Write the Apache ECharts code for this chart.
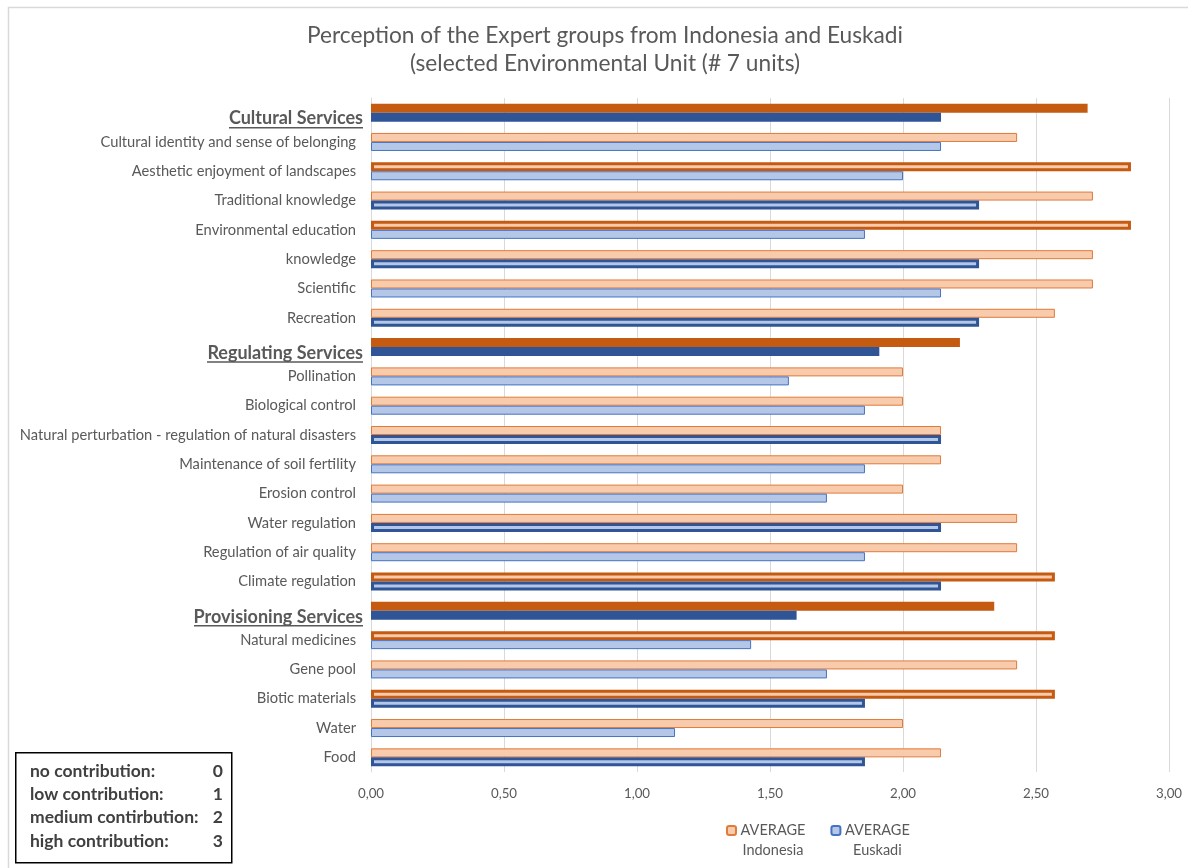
<!DOCTYPE html>
<html><head><meta charset="utf-8">
<script src="https://cdn.jsdelivr.net/npm/echarts@6/dist/echarts.min.js"></script>
<style>html,body{margin:0;padding:0;background:#fff}#c{width:1188px;height:868px}</style>
</head><body><div id="c"></div>
<script>
// ---- data ----
const categories = [
  'Cultural Services',
  'Cultural identity and sense of belonging',
  'Aesthetic enjoyment of landscapes',
  'Traditional knowledge',
  'Environmental education',
  'knowledge',
  'Scientific',
  'Recreation',
  'Regulating Services',
  'Pollination',
  'Biological control',
  'Natural perturbation - regulation of natural disasters',
  'Maintenance of soil fertility',
  'Erosion control',
  'Water regulation',
  'Regulation of air quality',
  'Climate regulation',
  'Provisioning Services',
  'Natural medicines',
  'Gene pool',
  'Biotic materials',
  'Water',
  'Food'
];
const groupHeaders = ['Cultural Services', 'Regulating Services', 'Provisioning Services'];
const indonesia = [2.694, 2.429, 2.857, 2.714, 2.857, 2.714, 2.714, 2.571,
                   2.214, 2.000, 2.000, 2.143, 2.143, 2.000, 2.429, 2.429, 2.571,
                   2.343, 2.571, 2.429, 2.571, 2.000, 2.143];
const euskadi   = [2.143, 2.143, 2.000, 2.286, 1.857, 2.286, 2.143, 2.286,
                   1.911, 1.571, 1.857, 2.143, 1.857, 1.714, 2.143, 1.857, 2.143,
                   1.600, 1.429, 1.714, 1.857, 1.143, 1.857];
const indonesiaHighlighted = ['Aesthetic enjoyment of landscapes', 'Environmental education',
  'Climate regulation', 'Natural medicines', 'Biotic materials'];
const euskadiHighlighted = ['Traditional knowledge', 'knowledge', 'Recreation',
  'Natural perturbation - regulation of natural disasters', 'Water regulation',
  'Climate regulation', 'Biotic materials', 'Food'];
const seriesNames = ['AVERAGE Indonesia', 'AVERAGE Euskadi'];
const xMin = 0, xMax = 3, xStep = 0.5;
const titleLines = ['Perception of the Expert groups from Indonesia and Euskadi',
                    '(selected Environmental Unit (# 7 units)'];
const scaleNotes = [['no contribution:', '0'], ['low contribution:', '1'],
                    ['medium contirbution:', '2'], ['high contribution:', '3']];

// ---- styles ----
const FONT = 'Lato, "Open Sans", sans-serif';
const GREY = '#595959';
const pal = {
  indo: {dark: '#C55A11', light: '#F8CBAD', edge: '#E07B39'},
  eus:  {dark: '#2F5597', light: '#B4C7E7', edge: '#4472C4'}
};

function buildData(vals, p, highlighted) {
  return vals.map((v, i) => {
    const cat = categories[i];
    if (groupHeaders.includes(cat)) {
      return {value: v, itemStyle: {color: p.dark, borderColor: p.dark, borderWidth: 0}};
    }
    if (highlighted.includes(cat)) {
      return {value: v, itemStyle: {color: p.light, borderColor: p.dark, borderWidth: 3}};
    }
    return {value: v, itemStyle: {color: p.light, borderColor: p.edge, borderWidth: 1}};
  });
}

// measure header widths for underline
const cv = document.createElement('canvas').getContext('2d');
cv.font = 'bold 18px ' + FONT;
const rich = {
  n: {fontSize: 14.7, color: GREY, fontFamily: FONT, padding: [0, 7, 0, 0]},
  s: {fontSize: 1, lineHeight: 14, height: 14},
  h: {fontSize: 18, fontWeight: 'bold', color: GREY, fontFamily: FONT, lineHeight: 16}
};
groupHeaders.forEach((h, i) => {
  rich['u' + i] = {width: Math.round(cv.measureText(h).width), height: 1.5, lineHeight: 2, backgroundColor: GREY};
});

const chart = echarts.init(document.getElementById('c'), null, {renderer: 'canvas'});
chart.setOption({
  animation: false,
  backgroundColor: '#fff',
  title: {
    text: titleLines.join('\n'),
    left: 600, top: 17, textAlign: 'center',
    textStyle: {fontSize: 22.7, fontWeight: 'normal', color: GREY, fontFamily: FONT, lineHeight: 28}
  },
  grid: {left: 371, right: 19, top: 98, bottom: 96, containLabel: false},
  xAxis: {
    type: 'value', min: xMin, max: xMax, interval: xStep,
    axisLine: {show: false}, axisTick: {show: false},
    splitLine: {lineStyle: {color: '#D9D9D9', width: 1}},
    axisLabel: {color: GREY, fontSize: 13.3, fontFamily: FONT, margin: 15,
      formatter: v => v.toFixed(2).replace('.', ',')}
  },
  yAxis: {
    type: 'category', data: categories, inverse: true,
    axisLine: {show: true, lineStyle: {color: '#D9D9D9'}},
    axisTick: {show: false},
    axisLabel: {
      margin: 8, interval: 0,
      formatter: v => {
        const h = groupHeaders.indexOf(v);
        if (h >= 0) return '{s| }\n{h|' + v + '}\n{u' + h + '|}';
        return '{n|' + v + '}';
      },
      rich: rich
    }
  },
  legend: {
    left: 721, top: 818,
    itemWidth: 9, itemHeight: 9, itemGap: 25,
    data: seriesNames,
    formatter: name => {
      const parts = name.split(' ');
      return '{a|' + parts[0] + '}\n{a|' + parts[1] + '}';
    },
    textStyle: {
      padding: [20, 0, 0, 0],
      rich: {a: {width: 64, align: 'center', fontSize: 14.5, lineHeight: 20, color: GREY, fontFamily: FONT}}
    }
  },
  series: [
    {
      name: seriesNames[0], type: 'bar', barWidth: 9, barGap: '0%',
      itemStyle: {color: pal.indo.light, borderColor: pal.indo.edge, borderWidth: 1},
      data: buildData(indonesia, pal.indo, indonesiaHighlighted)
    },
    {
      name: seriesNames[1], type: 'bar', barWidth: 9, barGap: '0%',
      itemStyle: {color: pal.eus.light, borderColor: pal.eus.edge, borderWidth: 1},
      data: buildData(euskadi, pal.eus, euskadiHighlighted)
    }
  ],
  graphic: [
    {type: 'rect', left: 6, top: 5, silent: true, z: -1,
     shape: {width: 1400, height: 1000}, style: {fill: 'none', stroke: '#D9D9D9', lineWidth: 1.5}},
    {type: 'rect', left: 15, top: 752, silent: true,
     shape: {width: 216, height: 110}, style: {fill: '#fff', stroke: '#000', lineWidth: 1.5}},
    ...scaleNotes.map((r, i) => ({
      type: 'text', silent: true, z: 10,
      style: {x: 30, y: 771 + i * 23.4, text: r[0], font: 'bold 17.5px ' + FONT, fill: '#404040', verticalAlign: 'middle'}
    })),
    ...scaleNotes.map((r, i) => ({
      type: 'text', silent: true, z: 10,
      style: {x: 223, y: 771 + i * 23.4, text: r[1], font: 'bold 17.5px ' + FONT, fill: '#404040', align: 'right', verticalAlign: 'middle'}
    }))
  ]
});
</script></body></html>
